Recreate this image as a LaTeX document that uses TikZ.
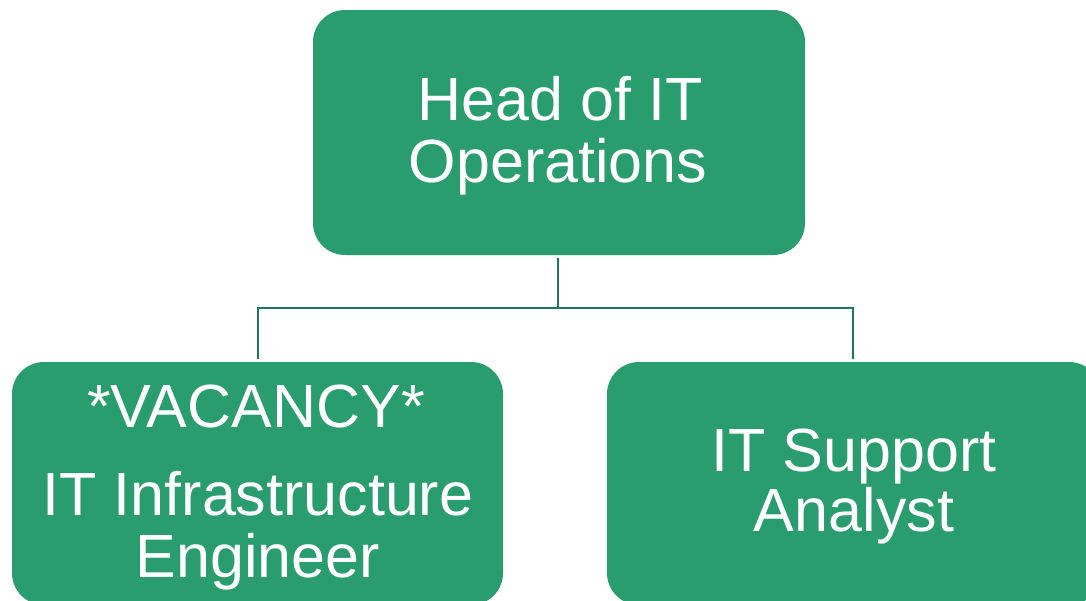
\documentclass[tikz,border=0pt]{standalone}
\usepackage{fontspec}
\setmainfont{Liberation Sans}
\definecolor{boxgreen}{RGB}{41,157,111}
\definecolor{linegreen}{RGB}{30,120,88}
\begin{document}
\begin{tikzpicture}[x=1pt,y=-1pt,
  box/.style={draw=none,fill=boxgreen,rounded corners=32pt,minimum width=#1,inner sep=0pt},
  txt/.style={text=white,font=\fontsize{61}{63}\selectfont,anchor=base,inner sep=0pt},
  conn/.style={draw=linegreen,line width=2.4pt}]
\useasboundingbox (0,0) rectangle (1086,600);
\clip (0,0) rectangle (1086,600);
\fill[white] (0,0) rectangle (1086,600);
% boxes
\node[box=492pt,minimum height=245pt] (head) at (559,132.5) {};
\node[box=491pt,minimum height=243pt] (infra) at (257.5,483.5) {};
\node[box=494pt,minimum height=243pt] (support) at (854,483.5) {};
% connector points
\coordinate (hb) at (558,258);
\coordinate (hm) at (558,308);
\coordinate (lm) at (258,308);
\coordinate (rm) at (853,308);
\coordinate (lb) at (258,358);
\coordinate (rb) at (853,358);
\draw[conn] (hb) -- (hm);
\draw[conn,line cap=rect] (lb) -- (lm) -- (rm) -- (rb);
% texts
\node[txt] (h1) at (560,120) {Head of IT};
\node[txt] (h2) at (558,182) {Operations};
\node[txt] (i1) at (256,427) {*VACANCY*};
\node[txt] (i2) at (258,515) {IT Infrastructure};
\node[txt] (i3) at (258,577) {Engineer};
\node[txt] (s1) at (854,471) {IT Support};
\node[txt] (s2) at (854,531) {Analyst};
\end{tikzpicture}
\end{document}
